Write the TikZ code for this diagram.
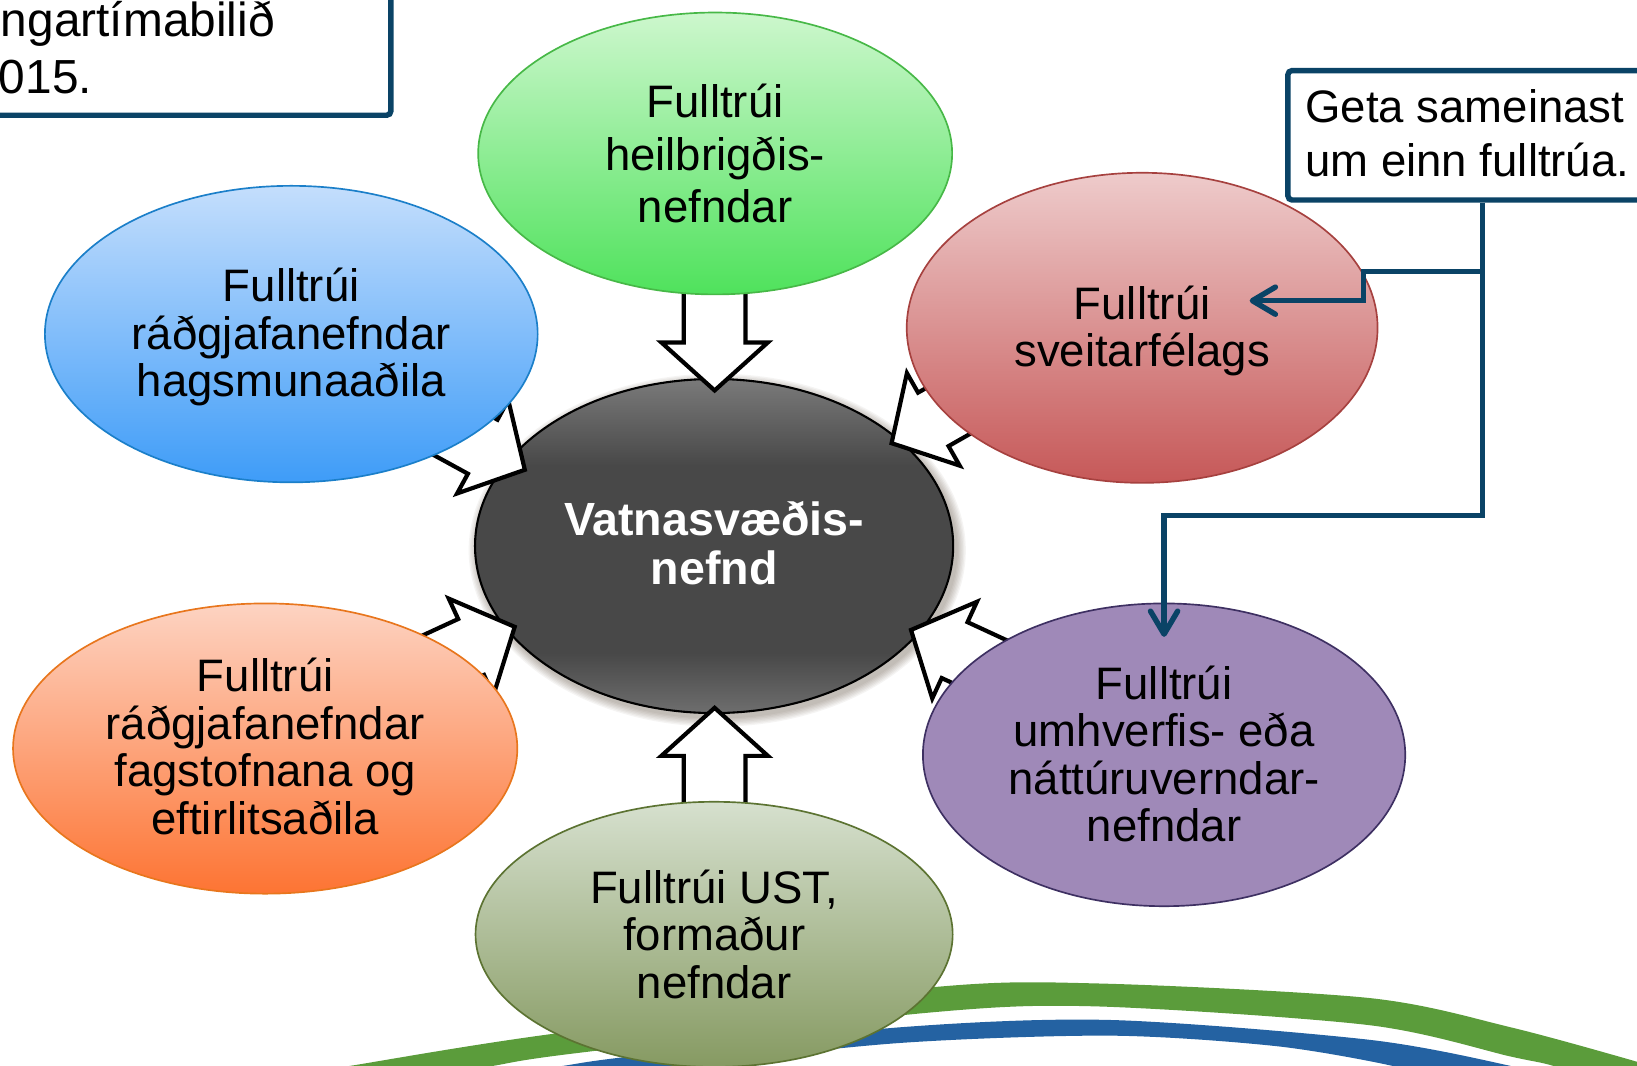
\documentclass[tikz,border=0pt]{standalone}
\usepackage{fontspec}
\setmainfont{Liberation Sans}
\usetikzlibrary{shapes.geometric,arrows.meta}
\definecolor{navy}{HTML}{0A4366}
\definecolor{bandgreen}{HTML}{5B9C3B}
\definecolor{bandblue}{HTML}{2462A2}
\definecolor{dkT}{HTML}{7A7A7A}
\definecolor{dkM}{HTML}{484848}
\definecolor{dkB}{HTML}{6E6E6E}
\definecolor{grT}{HTML}{CDF7CD}
\definecolor{grB}{HTML}{4FE25C}
\definecolor{grD}{HTML}{47B847}
\definecolor{blT}{HTML}{C4DEFC}
\definecolor{blB}{HTML}{3E9CF8}
\definecolor{blD}{HTML}{1B7FC9}
\definecolor{rdT}{HTML}{EECBCB}
\definecolor{rdB}{HTML}{C65858}
\definecolor{rdD}{HTML}{A6413F}
\definecolor{orT}{HTML}{FDD3C2}
\definecolor{orB}{HTML}{FD7433}
\definecolor{orD}{HTML}{E8761D}
\definecolor{puF}{HTML}{9F89B8}
\definecolor{puD}{HTML}{3E3062}
\definecolor{gyT}{HTML}{D6E0CE}
\definecolor{gyB}{HTML}{869A62}
\definecolor{gyD}{HTML}{5C7332}
\pgfdeclareverticalshading{darkell}{100bp}{color(0bp)=(dkB); color(25bp)=(dkB); color(34bp)=(dkM); color(62bp)=(dkM); color(75bp)=(dkT); color(100bp)=(dkT)}
\newcommand\bodyfont{\fontsize{21.8pt}{22.7pt}\selectfont}
\newcommand\myblockarr[3]{%
  \begin{scope}[shift={#1},rotate=#2]
    \draw[barrow] (0,0) -- (46,51) -- (46,29.5) -- (#3,29.5) -- (#3,-29.5) -- (46,-29.5) -- (46,-51) -- cycle;
  \end{scope}}
\begin{document}
\begin{tikzpicture}[x=0.5pt,y=-0.5pt,
  ellbase/.style={ellipse, inner sep=0pt, font=\bodyfont, align=center, line width=0.8pt, text=black},
  barrow/.style={draw=black, fill=white, line width=2pt, line join=miter},
  conn/.style={draw=navy, line width=2.6pt, line join=miter},
  tipbarb/.style={-{Straight Barb[length=11pt,width=13pt,line cap=round,line join=round]}},
  boxstyle/.style={draw=navy, line width=2.6pt, fill=white, rounded corners=2pt, inner sep=0pt},
  plain/.style={inner sep=0pt, font=\bodyfont},
  oldtext/.style={inner sep=0pt, font=\fontsize{22.9pt}{24pt}\selectfont}
]
\useasboundingbox (0,0) rectangle (1568,1021);
\clip (0,0) rectangle (1568,1021);

% swooshes at the bottom
\fill[bandgreen] plot[smooth] coordinates {(280,1030) (335,1021) (524,991) (889,946) (1051,942) (1312,956) (1447,984) (1568,1017) (1600,1028)}
  -- plot[smooth] coordinates {(1540,1040) (1488,1021) (1447,1012) (1312,982) (1051,964) (889,970) (550,1009) (472,1021) (420,1030)} -- cycle;
\fill[bandblue] plot[smooth] coordinates {(490,1028) (539,1021) (603,1012) (862,984) (1064,977) (1312,996) (1447,1021) (1480,1032)}
  -- plot[smooth] coordinates {(1370,1035) (1334,1021) (1222,1002) (1064,992) (862,999) (650,1021) (610,1028)} -- cycle;

% partly visible box at the top left
\node (oldbox) [boxstyle, minimum width=240pt, minimum height=90pt, anchor=south east] at (377,113) {};
\node (old1) [oldtext, anchor=base west] at (0.5,34.5) {ngartímabilið};
\node (old2) [oldtext, anchor=base west] at (-1.5,89.4) {015.};

% soft shadow of the central ellipse
\foreach \i in {1,...,7}
  \fill[black!70!brown, opacity=0.05] (687,527) ellipse [x radius={229+\i*1.3}, y radius={160+\i*1.3}];

% central ellipse
\node (vn) [ellipse, inner sep=0pt, draw=black, line width=1pt, shading=darkell,
  minimum width=229pt, minimum height=160pt, text=white, align=center,
  font=\bfseries\fontsize{22.3pt}{23.5pt}\selectfont] at (684,523) {};
\node (vntext) [inner sep=0pt, text=white, align=center,
  font=\bfseries\fontsize{22.3pt}{23.5pt}\selectfont] at (684,520.5) {Vatnasvæðis-\\nefnd};

% block arrows (tip, angle towards source, length)
\myblockarr{(684.5,374)}{90}{110}
\myblockarr{(684.5,678)}{-90}{110}
\myblockarr{(502.7,450)}{151.3}{130}
\myblockarr{(854,424.5)}{29.7}{130}
\myblockarr{(493,600.4)}{-155.2}{130}
\myblockarr{(872.6,603.4)}{-24.8}{130}

% outer ellipses
\node (hb) [ellbase, draw=grD, top color=grT, bottom color=grB, minimum width=227pt, minimum height=135pt,
  font=\fontsize{21.8pt}{25pt}\selectfont] at (685,147) {Fulltrúi\\heilbrigðis-\\nefndar};
\node (rh) [ellbase, draw=blD, top color=blT, bottom color=blB, minimum width=236pt, minimum height=142pt]
  at (279,320) {};
\node (rhtext) [plain, align=center] at (279,323) {Fulltrúi\\ráðgjafanefndar\\hagsmunaaðila};
\node (sv) [ellbase, draw=rdD, top color=rdT, bottom color=rdB, minimum width=225.5pt, minimum height=148.5pt]
  at (1094,314) {};
\node (svtext) [plain, align=center] at (1094,317) {Fulltrúi\\sveitarfélags};
\node (rf) [ellbase, draw=orD, top color=orT, bottom color=orB, minimum width=241.5pt, minimum height=139pt]
  at (254,717) {};
\node (rftext) [plain, align=center] at (254,715) {Fulltrúi\\ráðgjafanefndar\\fagstofnana og\\eftirlitsaðila};
\node (un) [ellbase, draw=puD, fill=puF, minimum width=231pt, minimum height=145pt]
  at (1115,723) {};
\node (untext) [plain, align=center] at (1115,722) {Fulltrúi\\umhverfis- eða\\náttúruverndar-\\nefndar};
\node (ust) [ellbase, draw=gyD, top color=gyT, bottom color=gyB, minimum width=228.5pt, minimum height=127pt]
  at (684,895) {Fulltrúi UST,\\formaður\\nefndar};

% callout box
\node (note) [boxstyle, minimum width=200pt, minimum height=62pt, anchor=north west] at (1231,65) {};
\node (note1) [plain, anchor=base west] at (1250,117.5) {Geta sameinast};
\node (note2) [plain, anchor=base west] at (1250,168.9) {um einn fulltrúa.};

% connectors from the callout
\coordinate (jx) at (1420,0);
\coordinate (jsv) at (1420,260);
\coordinate (tipSv) at (1197,288);
\coordinate (tipUn) at (1115,610);
\draw[conn, tipbarb] (note.south -| jx) -- (1420,494) -- (1115,494) -- (tipUn);
\draw[conn, tipbarb] (jsv) -- (1306,260) -- (1306,288) -- (tipSv);
\end{tikzpicture}
\end{document}
